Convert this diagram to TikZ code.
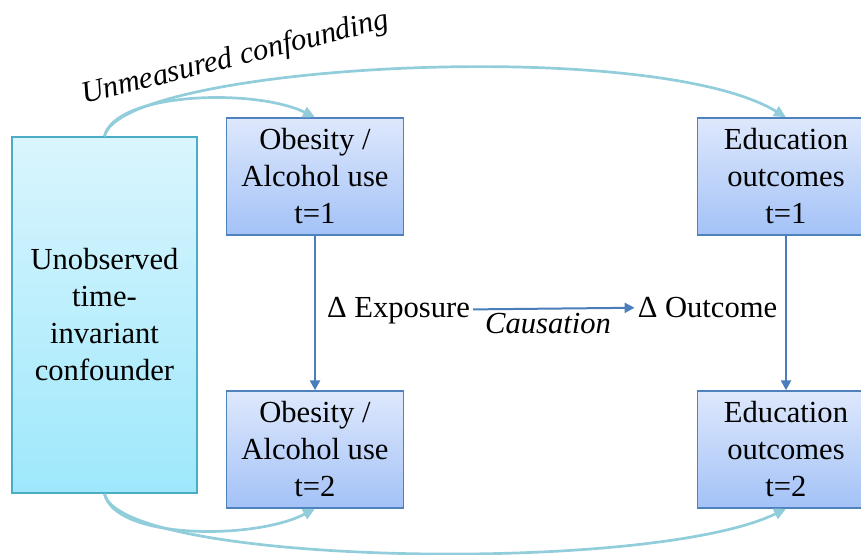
\documentclass[tikz,border=0pt]{standalone}
\usepackage{fontspec}
\setmainfont{Liberation Serif}
\usepackage{tikz}
\usetikzlibrary{arrows.meta,positioning}
\definecolor{cteal}{HTML}{4BACC6}
\definecolor{cltea}{HTML}{92CDDC}
\definecolor{ctop}{HTML}{DAF5FD}
\definecolor{cbot}{HTML}{9EE8FC}
\definecolor{cblue}{HTML}{4F81BD}
\definecolor{btop}{HTML}{DEE8FC}
\definecolor{bbot}{HTML}{A3C2F7}
\definecolor{carrw}{HTML}{4A7EBB}
\newcommand{\dfont}{\fontsize{30.6pt}{37pt}\selectfont}
\tikzset{
  confb/.style={draw=cteal,line width=1.4pt,top color=ctop,bottom color=cbot,align=center,font=\dfont,minimum width=185pt,minimum height=356pt,inner sep=2pt},
  varb/.style={draw=cblue,line width=1.4pt,top color=btop,bottom color=bbot,align=center,font=\dfont,minimum width=177pt,minimum height=117pt,inner sep=2pt},
  txt/.style={font=\dfont,inner sep=3pt},
  lbl/.style={font=\dfont\itshape,inner sep=0pt},
  arr/.style={-{Triangle[length=10pt,width=10pt]},line width=2.4pt,draw=carrw},
  carr/.style={-{Triangle[length=12pt,width=11pt]},line width=2.7pt,draw=cltea},
}
\begin{document}
\begin{tikzpicture}[x=1pt,y=-1pt]
  \path[use as bounding box,clip] (0,0) rectangle (861,554);
  % boxes
  \node[confb] (cf) at (104.5,315) {Unobserved\\time-\\invariant\\confounder};
  \node[varb] (o1) at (315,176.5) {Obesity /\\Alcohol use\\t=1};
  \node[varb] (o2) at (315,449.5) {Obesity /\\Alcohol use\\t=2};
  \node[varb] (e1) at (786,176.5) {Education\\outcomes\\t=1};
  \node[varb] (e2) at (786,449.5) {Education\\outcomes\\t=2};
  % change model
  \draw[arr] (o1) -- (o2);
  \draw[arr] (e1) -- (e2);
  \node[txt,anchor=base] (ex) at (398.5,317) {Δ Exposure};
  \node[txt,anchor=base] (oc) at (707.5,317) {Δ Outcome};
  \draw[arr,line width=2pt] (ex) -- (oc);
  \node[lbl,anchor=base] (cz) at (548,333) {Causation};
  % confounding paths
  \draw[carr] (cf.north) .. controls (115,92) and (255,88) .. (o1.north);
  \draw[carr] (cf.north) .. controls (120,65) and (650,35) .. (e1.north);
  \draw[carr] (cf.south) .. controls (115,540) and (255,540) .. (o2.south);
  \draw[carr] (cf.south) .. controls (120,565) and (650,575) .. (e2.south);
  \node[lbl,anchor=base west,rotate=14] (um) at (84,104) {Unmeasured confounding};
\end{tikzpicture}
\end{document}
